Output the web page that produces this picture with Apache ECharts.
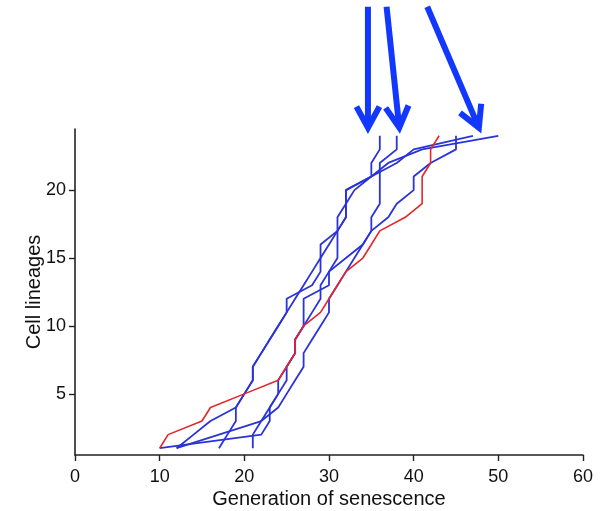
<!DOCTYPE html>
<html>
<head>
<meta charset="utf-8">
<script src="https://cdn.jsdelivr.net/npm/echarts@6/dist/echarts.min.js"></script>
<style>
  html, body { margin: 0; padding: 0; background: #fff; }
  #chart { width: 605px; height: 511px; }
</style>
</head>
<body>
<div id="chart"></div>
<script>
// Cell lineage rank (1..24) on the vertical axis
const lineages = Array.from({ length: 24 }, (_, i) => i + 1);

// Generation of senescence for each lineage, sorted, one array per experiment
const redGenerations = [10, 11, 15, 16, 20, 24, 25, 26, 26, 27, 29, 30, 31, 32, 34, 35, 36, 39, 41, 41, 41, 42, 42, 43];
const blue50 = [12, 14, 16, 19, 20, 21, 21, 22, 23, 24, 25, 26, 27, 28, 29, 30, 31, 32, 32, 32, 35, 37, 41, 50];
const blue47 = [17, 18, 19, 19, 20, 21, 21, 22, 23, 24, 25, 25, 28, 29, 29, 29, 31, 32, 32, 33, 35, 38, 40, 47];
const blue36 = [10, 22, 23, 23, 24, 24, 25, 26, 26, 27, 28, 29, 29, 30, 31, 31, 31, 31, 32, 32, 35, 35, 36, 36];
const blue38 = [12, 17, 22, 23, 24, 25, 25, 26, 26, 27, 27, 27, 30, 30, 32, 34, 35, 35, 36, 36, 36, 36, 38, 38];
const blue45 = [21, 21, 22, 24, 25, 26, 27, 27, 28, 29, 30, 30, 31, 32, 33, 34, 35, 37, 38, 40, 40, 42, 45, 45];
const blueSeries = [blue50, blue47, blue36, blue38, blue45];

// Axis ticks
const xTicks = [0, 10, 20, 30, 40, 50, 60];
const yTicks = [5, 10, 15, 20];

// Arrows above the plot: tail (x, y) and tip (x, y), in data units
const arrowTailX = [34.6, 36.8, 41.6];
const arrowTipX = [34.6, 38.3, 47.7];
const arrowTailY = 33.5;
const arrowTipY = 24.6;

const BLUE = '#2a33d6';
const RED = '#e3262b';
const ARROW = '#1238ff';
const FONT = 'Liberation Sans';

const toPairs = gens => gens.map((g, i) => [g, lineages[i]]);

const series = [];
blueSeries.forEach(gens => {
  series.push({
    type: 'line', data: toPairs(gens), symbol: 'none', silent: true,
    lineStyle: { color: BLUE, width: 1.8 }, z: 2
  });
});
series.push({
  type: 'line', data: toPairs(redGenerations), symbol: 'none', silent: true,
  lineStyle: { color: RED, width: 1.6 }, z: 3
});

// Thick arrows with open chevron heads
series.push({
  type: 'custom',
  clip: false,
  silent: true,
  z: 5,
  data: arrowTipX.map((tx, i) => [arrowTailX[i], arrowTailY, tx, arrowTipY]),
  renderItem: function (params, api) {
    const tail = api.coord([api.value(0), api.value(1)]);
    const tip = api.coord([api.value(2), api.value(3)]);
    const dx = tip[0] - tail[0], dy = tip[1] - tail[1];
    const len = Math.sqrt(dx * dx + dy * dy);
    const ux = dx / len, uy = dy / len;
    const head = 24, spread = 0.5;
    const wing = (s) => [
      tip[0] - head * (ux * Math.cos(spread) - s * uy * Math.sin(spread)),
      tip[1] - head * (uy * Math.cos(spread) + s * ux * Math.sin(spread))
    ];
    const style = { stroke: ARROW, lineWidth: 6, fill: null, lineCap: 'butt', lineJoin: 'miter' };
    return {
      type: 'group',
      children: [
        { type: 'polyline', shape: { points: [tail, [tip[0] - ux * 3, tip[1] - uy * 3]] }, style: style },
        { type: 'polyline', shape: { points: [wing(1), tip, wing(-1)] }, style: style }
      ]
    };
  }
});

const chart = echarts.init(document.getElementById('chart'), null, { renderer: 'canvas' });
chart.setOption({
  animation: false,
  backgroundColor: '#fff',
  grid: { left: 75, right: 22, top: 129, bottom: 56, containLabel: false, outerBoundsMode: 'none' },
  xAxis: {
    type: 'value', min: xTicks[0], max: xTicks[xTicks.length - 1], interval: 10,
    name: 'Generation of senescence', nameLocation: 'middle', nameGap: 34, nameMoveOverlap: false,
    nameTextStyle: { fontFamily: FONT, fontSize: 20, color: '#111' },
    axisLine: { lineStyle: { color: '#222', width: 1.6 } },
    axisTick: { length: 6, lineStyle: { color: '#222', width: 1.4 } },
    axisLabel: { fontFamily: FONT, fontSize: 18, color: '#111', margin: 13 },
    splitLine: { show: false }
  },
  yAxis: {
    type: 'value', min: 0.5, max: 24.5,
    name: 'Cell lineages', nameLocation: 'middle', nameGap: 31, nameMoveOverlap: false,
    nameTextStyle: { fontFamily: FONT, fontSize: 20, color: '#111' },
    axisLine: { show: true, lineStyle: { color: '#222', width: 1.6 } },
    axisTick: { show: true, length: 6, customValues: yTicks, lineStyle: { color: '#222', width: 1.4 } },
    axisLabel: { fontFamily: FONT, fontSize: 18, color: '#111', margin: 9, customValues: yTicks },
    splitLine: { show: false }
  },
  series: series
});
</script>
</body>
</html>
